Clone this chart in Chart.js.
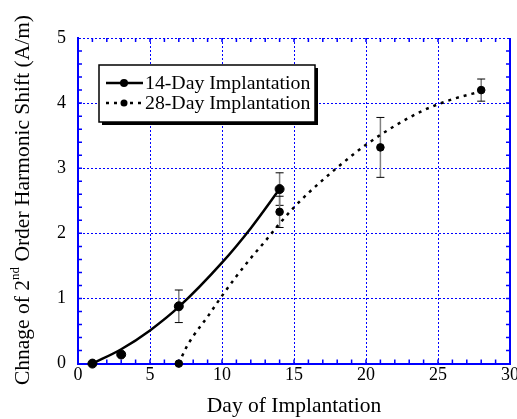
<!DOCTYPE html>
<html>
<head>
<meta charset="utf-8">
<script src="https://cdn.jsdelivr.net/npm/chart.js@4"></script>
<style>
  html, body { margin: 0; padding: 0; background: #fff; }
  #wrap { width: 517px; height: 419px; }
</style>
</head>
<body>
<div id="wrap"><canvas id="chart" width="517" height="419"></canvas></div>
<script>
// measured points
const days14 = [1, 3, 7, 14];
const shift14 = [0, 0.14, 0.88, 2.68];
const err14 = [0, 0, 0.25, 0.25];

const days28 = [7, 14, 21, 28];
const shift28 = [0, 2.33, 3.32, 4.20];
const err28 = [0, 0.24, 0.46, 0.17];

// fitted curves
const fitDays14 = [1, 3, 5, 7, 10, 12, 14];
const fitShift14 = [0, 0.22, 0.51, 0.87, 1.55, 2.08, 2.68];
const fitDays28 = [7, 7.5, 8, 9, 10, 11, 12, 13, 14, 15, 16, 18, 20, 22, 24, 26, 28];
const fitShift28 = [0, 0.24, 0.42, 0.72, 1.04, 1.34, 1.62, 1.88, 2.15, 2.40, 2.62, 3.01, 3.36, 3.65, 3.89, 4.06, 4.18];

const xTicks = [0, 5, 10, 15, 20, 25, 30];
const yTicks = [0, 1, 2, 3, 4, 5];
const legendLabels = ['14-Day Implantation', '28-Day Implantation'];

const SERIF = '"Liberation Serif", "Times New Roman", serif';
const BLUE = '#0000ff';

function toPoints(xs, ys) {
    return xs.map((x, i) => ({ x: x, y: ys[i] }));
}

// minor ticks, right border, error bars
const framePlugin = {
    id: 'frame',
    beforeDatasetsDraw(chart) {
        const ctx = chart.ctx;
        const a = chart.chartArea;
        const xs = chart.scales.x;
        const ys = chart.scales.y;
        ctx.save();
        ctx.strokeStyle = BLUE;
        ctx.lineWidth = 1.5;
        ctx.beginPath();
        for (let v = 1; v < 30; v++) {
            const px = xs.getPixelForValue(v);
            ctx.moveTo(px, a.bottom); ctx.lineTo(px, a.bottom - 4);
            ctx.moveTo(px, a.top); ctx.lineTo(px, a.top + 4);
        }
        for (let k = 1; k < 25; k++) {
            const py = ys.getPixelForValue(k * 0.2);
            ctx.moveTo(a.left, py); ctx.lineTo(a.left + 4, py);
            ctx.moveTo(a.right, py); ctx.lineTo(a.right - 4, py);
        }
        ctx.stroke();
        ctx.lineWidth = 2;
        ctx.beginPath();
        ctx.moveTo(a.right, a.top); ctx.lineTo(a.right, a.bottom);
        ctx.stroke();

        // error bars
        const bars = [[days14, shift14, err14], [days28, shift28, err28]];
        bars.forEach(([xv, yv, ev]) => {
            xv.forEach((x, i) => {
                if (!ev[i]) return;
                const px = xs.getPixelForValue(x);
                const top = ys.getPixelForValue(yv[i] + ev[i]);
                const bot = ys.getPixelForValue(yv[i] - ev[i]);
                ctx.strokeStyle = '#808080';
                ctx.lineWidth = 1.5;
                ctx.beginPath();
                ctx.moveTo(px, top); ctx.lineTo(px, bot);
                ctx.stroke();
                ctx.strokeStyle = '#000';
                ctx.lineWidth = 1;
                ctx.beginPath();
                ctx.moveTo(px - 4, top); ctx.lineTo(px + 4, top);
                ctx.moveTo(px - 4, bot); ctx.lineTo(px + 4, bot);
                ctx.stroke();
            });
        });
        ctx.restore();
    },
    afterDraw(chart) {
        const ctx = chart.ctx;
        ctx.save();

        // y axis title with superscript
        ctx.translate(23, 200);
        ctx.rotate(-Math.PI / 2);
        ctx.fillStyle = '#000';
        ctx.textBaseline = 'middle';
        const big = '21.5px ' + SERIF;
        const small = '13px ' + SERIF;
        const p1 = 'Chnage of 2', p2 = 'nd', p3 = ' Order Harmonic Shift (A/m)';
        ctx.font = big;
        const w1 = ctx.measureText(p1).width, w3 = ctx.measureText(p3).width;
        ctx.font = small;
        const w2 = ctx.measureText(p2).width;
        let x = -(w1 + w2 + w3) / 2;
        ctx.font = big;
        ctx.fillText(p1, x, 0);
        x += w1;
        ctx.font = small;
        ctx.fillText(p2, x, -7);
        x += w2;
        ctx.font = big;
        ctx.fillText(p3, x, 0);
        ctx.restore();

        // legend box
        ctx.save();
        const bx = 99, by = 65, bw = 216, bh = 57;
        ctx.fillStyle = '#000';
        ctx.fillRect(bx + 3, by + 3, bw, bh);
        ctx.fillStyle = '#fff';
        ctx.fillRect(bx, by, bw, bh);
        ctx.strokeStyle = '#000';
        ctx.lineWidth = 1.5;
        ctx.strokeRect(bx, by, bw, bh);
        const rows = [83, 103];
        rows.forEach((ry, i) => {
            ctx.strokeStyle = '#000';
            ctx.lineWidth = 2.5;
            ctx.setLineDash(i === 0 ? [] : [3, 5]);
            ctx.beginPath();
            ctx.moveTo(106, ry); ctx.lineTo(143, ry);
            ctx.stroke();
            ctx.setLineDash([]);
            ctx.beginPath();
            ctx.arc(124, ry, i === 0 ? 4 : 3.5, 0, Math.PI * 2);
            ctx.fillStyle = '#000';
            ctx.fill();
            ctx.font = '19.8px ' + SERIF;
            ctx.textBaseline = 'middle';
            ctx.fillText(legendLabels[i], 145, ry + 1);
        });
        ctx.restore();
    }
};

new Chart(document.getElementById('chart'), {
    type: 'scatter',
    data: {
        datasets: [
            {
                data: toPoints(fitDays14, fitShift14),
                showLine: true,
                borderColor: '#000',
                borderWidth: 2.5,
                pointRadius: 0,
                cubicInterpolationMode: 'monotone'
            },
            {
                data: toPoints(fitDays28, fitShift28),
                showLine: true,
                borderColor: '#000',
                borderWidth: 2.5,
                borderDash: [3, 5],
                pointRadius: 0,
                cubicInterpolationMode: 'monotone'
            },
            {
                data: toPoints(days14, shift14),
                backgroundColor: '#000',
                borderColor: '#000',
                pointRadius: 4.5,
                clip: false
            },
            {
                data: toPoints(days28, shift28),
                backgroundColor: '#000',
                borderColor: '#000',
                pointRadius: 3.8,
                clip: false
            }
        ]
    },
    options: {
        responsive: false,
        animation: false,
        events: [],
        layout: { padding: { left: 45, right: 7, top: 38, bottom: 0 } },
        plugins: {
            legend: { display: false },
            tooltip: { enabled: false }
        },
        scales: {
            x: {
                type: 'linear',
                min: 0,
                max: 30,
                afterBuildTicks: scale => { scale.ticks = xTicks.map(v => ({ value: v })); },
                afterFit: scale => { scale.paddingRight = 0; },
                ticks: {
                    color: '#000',
                    font: { family: SERIF, size: 18 },
                    padding: 1,
                    maxRotation: 0
                },
                grid: { color: BLUE, lineWidth: 1, drawTicks: false },
                border: { color: BLUE, width: 2, dash: [2, 2] },
                title: {
                    display: true,
                    text: 'Day of Implantation',
                    color: '#000',
                    font: { family: SERIF, size: 21.5 },
                    padding: { top: 6, bottom: 0 }
                }
            },
            y: {
                type: 'linear',
                min: 0,
                max: 5,
                afterBuildTicks: scale => { scale.ticks = yTicks.map(v => ({ value: v })); },
                ticks: {
                    color: '#000',
                    font: { family: SERIF, size: 18 },
                    padding: 12
                },
                grid: { color: BLUE, lineWidth: 1, drawTicks: false },
                border: { color: BLUE, width: 2, dash: [2, 2] }
            }
        }
    },
    plugins: [framePlugin]
});
</script>
</body>
</html>
